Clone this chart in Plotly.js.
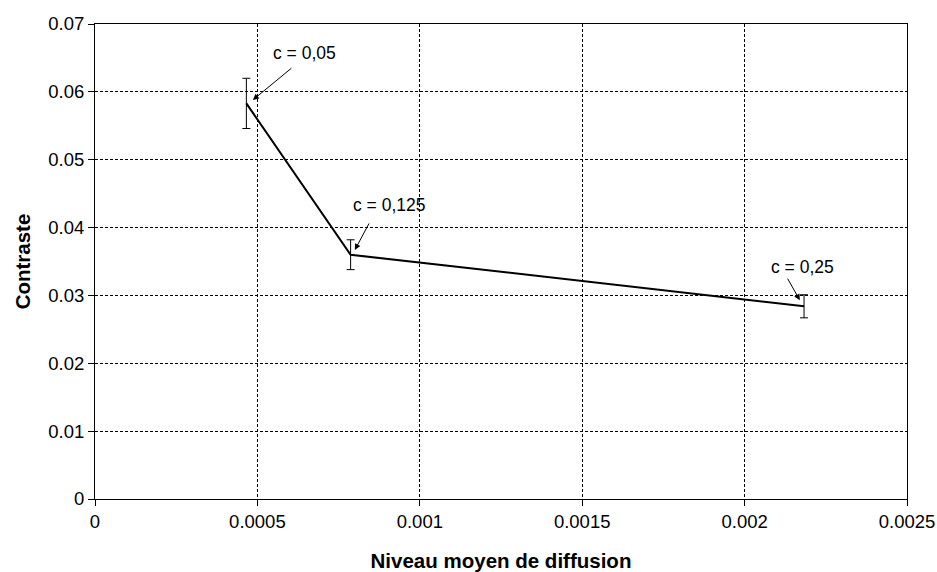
<!DOCTYPE html>
<html>
<head>
<meta charset="utf-8">
<script src="https://cdn.plot.ly/plotly-3.0.1.min.js"></script>
<style>html,body{margin:0;padding:0;background:#fff;}#chart{width:937px;height:572px;}</style>
</head>
<body>
<div id="chart"></div>
<script>
const xValues = [0.000466, 0.000787, 0.002183];
const yValues = [0.0583, 0.0360, 0.0284];
const yErrors = [0.0037, 0.0022, 0.0017];
const labels = ["c = 0,05", "c = 0,125", "c = 0,25"];
const labelX = [0.000646, 0.000907, 0.002178];
const labelY = [0.0657, 0.0433, 0.0342];
const arrowX = [0.000486, 0.000800, 0.002170];
const arrowY = [0.0588, 0.0367, 0.0293];
const arrowAx = [40, 15, -13];
const arrowAy = [-33, -28, -23];

const font = "Liberation Sans, Arial, sans-serif";

const trace = {
  x: xValues, y: yValues, type: 'scatter', mode: 'lines',
  line: {color: '#000', width: 2},
  error_y: {type: 'data', array: yErrors, visible: true, color: '#000', thickness: 1, width: 4},
  hoverinfo: 'none'
};

const annotations = [];
labels.forEach((t, i) => {
  annotations.push({x: labelX[i], y: labelY[i], xref: 'x', yref: 'y', text: t, showarrow: false,
    font: {family: font, size: 17.5, color: '#000'}});
  annotations.push({x: arrowX[i], y: arrowY[i], xref: 'x', yref: 'y', text: '', showarrow: true,
    ax: arrowAx[i], ay: arrowAy[i], arrowhead: 2, arrowsize: 1.2, arrowwidth: 1, arrowcolor: '#000'});
});

const layout = {
  width: 937, height: 572,
  margin: {l: 95, r: 30, t: 24, b: 73},
  paper_bgcolor: '#fff', plot_bgcolor: '#fff',
  showlegend: false,
  font: {family: font, size: 18, color: '#000'},
  xaxis: {
    range: [0, 0.0025], dtick: 0.0005, tick0: 0,
    showline: true, mirror: true, linecolor: '#000', linewidth: 1,
    ticks: 'outside', ticklen: 6, tickcolor: '#000',
    showgrid: true, gridcolor: '#000', gridwidth: 1, griddash: '3px,2px',
    zeroline: false,
    tickfont: {family: font, size: 18.5},
    title: {text: 'Niveau moyen de diffusion', font: {family: font, size: 20.5, weight: 'bold'}, standoff: 22}
  },
  yaxis: {
    range: [0, 0.07], dtick: 0.01, tick0: 0,
    showline: true, mirror: true, linecolor: '#000', linewidth: 1,
    ticks: 'outside', ticklen: 6, tickcolor: '#000',
    showgrid: true, gridcolor: '#000', gridwidth: 1, griddash: '3px,2px',
    zeroline: false,
    tickfont: {family: font, size: 18.5},
    title: {text: 'Contraste', font: {family: font, size: 20.5, weight: 'bold'}, standoff: 12}
  },
  annotations: annotations
};

Plotly.newPlot('chart', [trace], layout, {displayModeBar: false, staticPlot: true});
</script>
</body>
</html>
